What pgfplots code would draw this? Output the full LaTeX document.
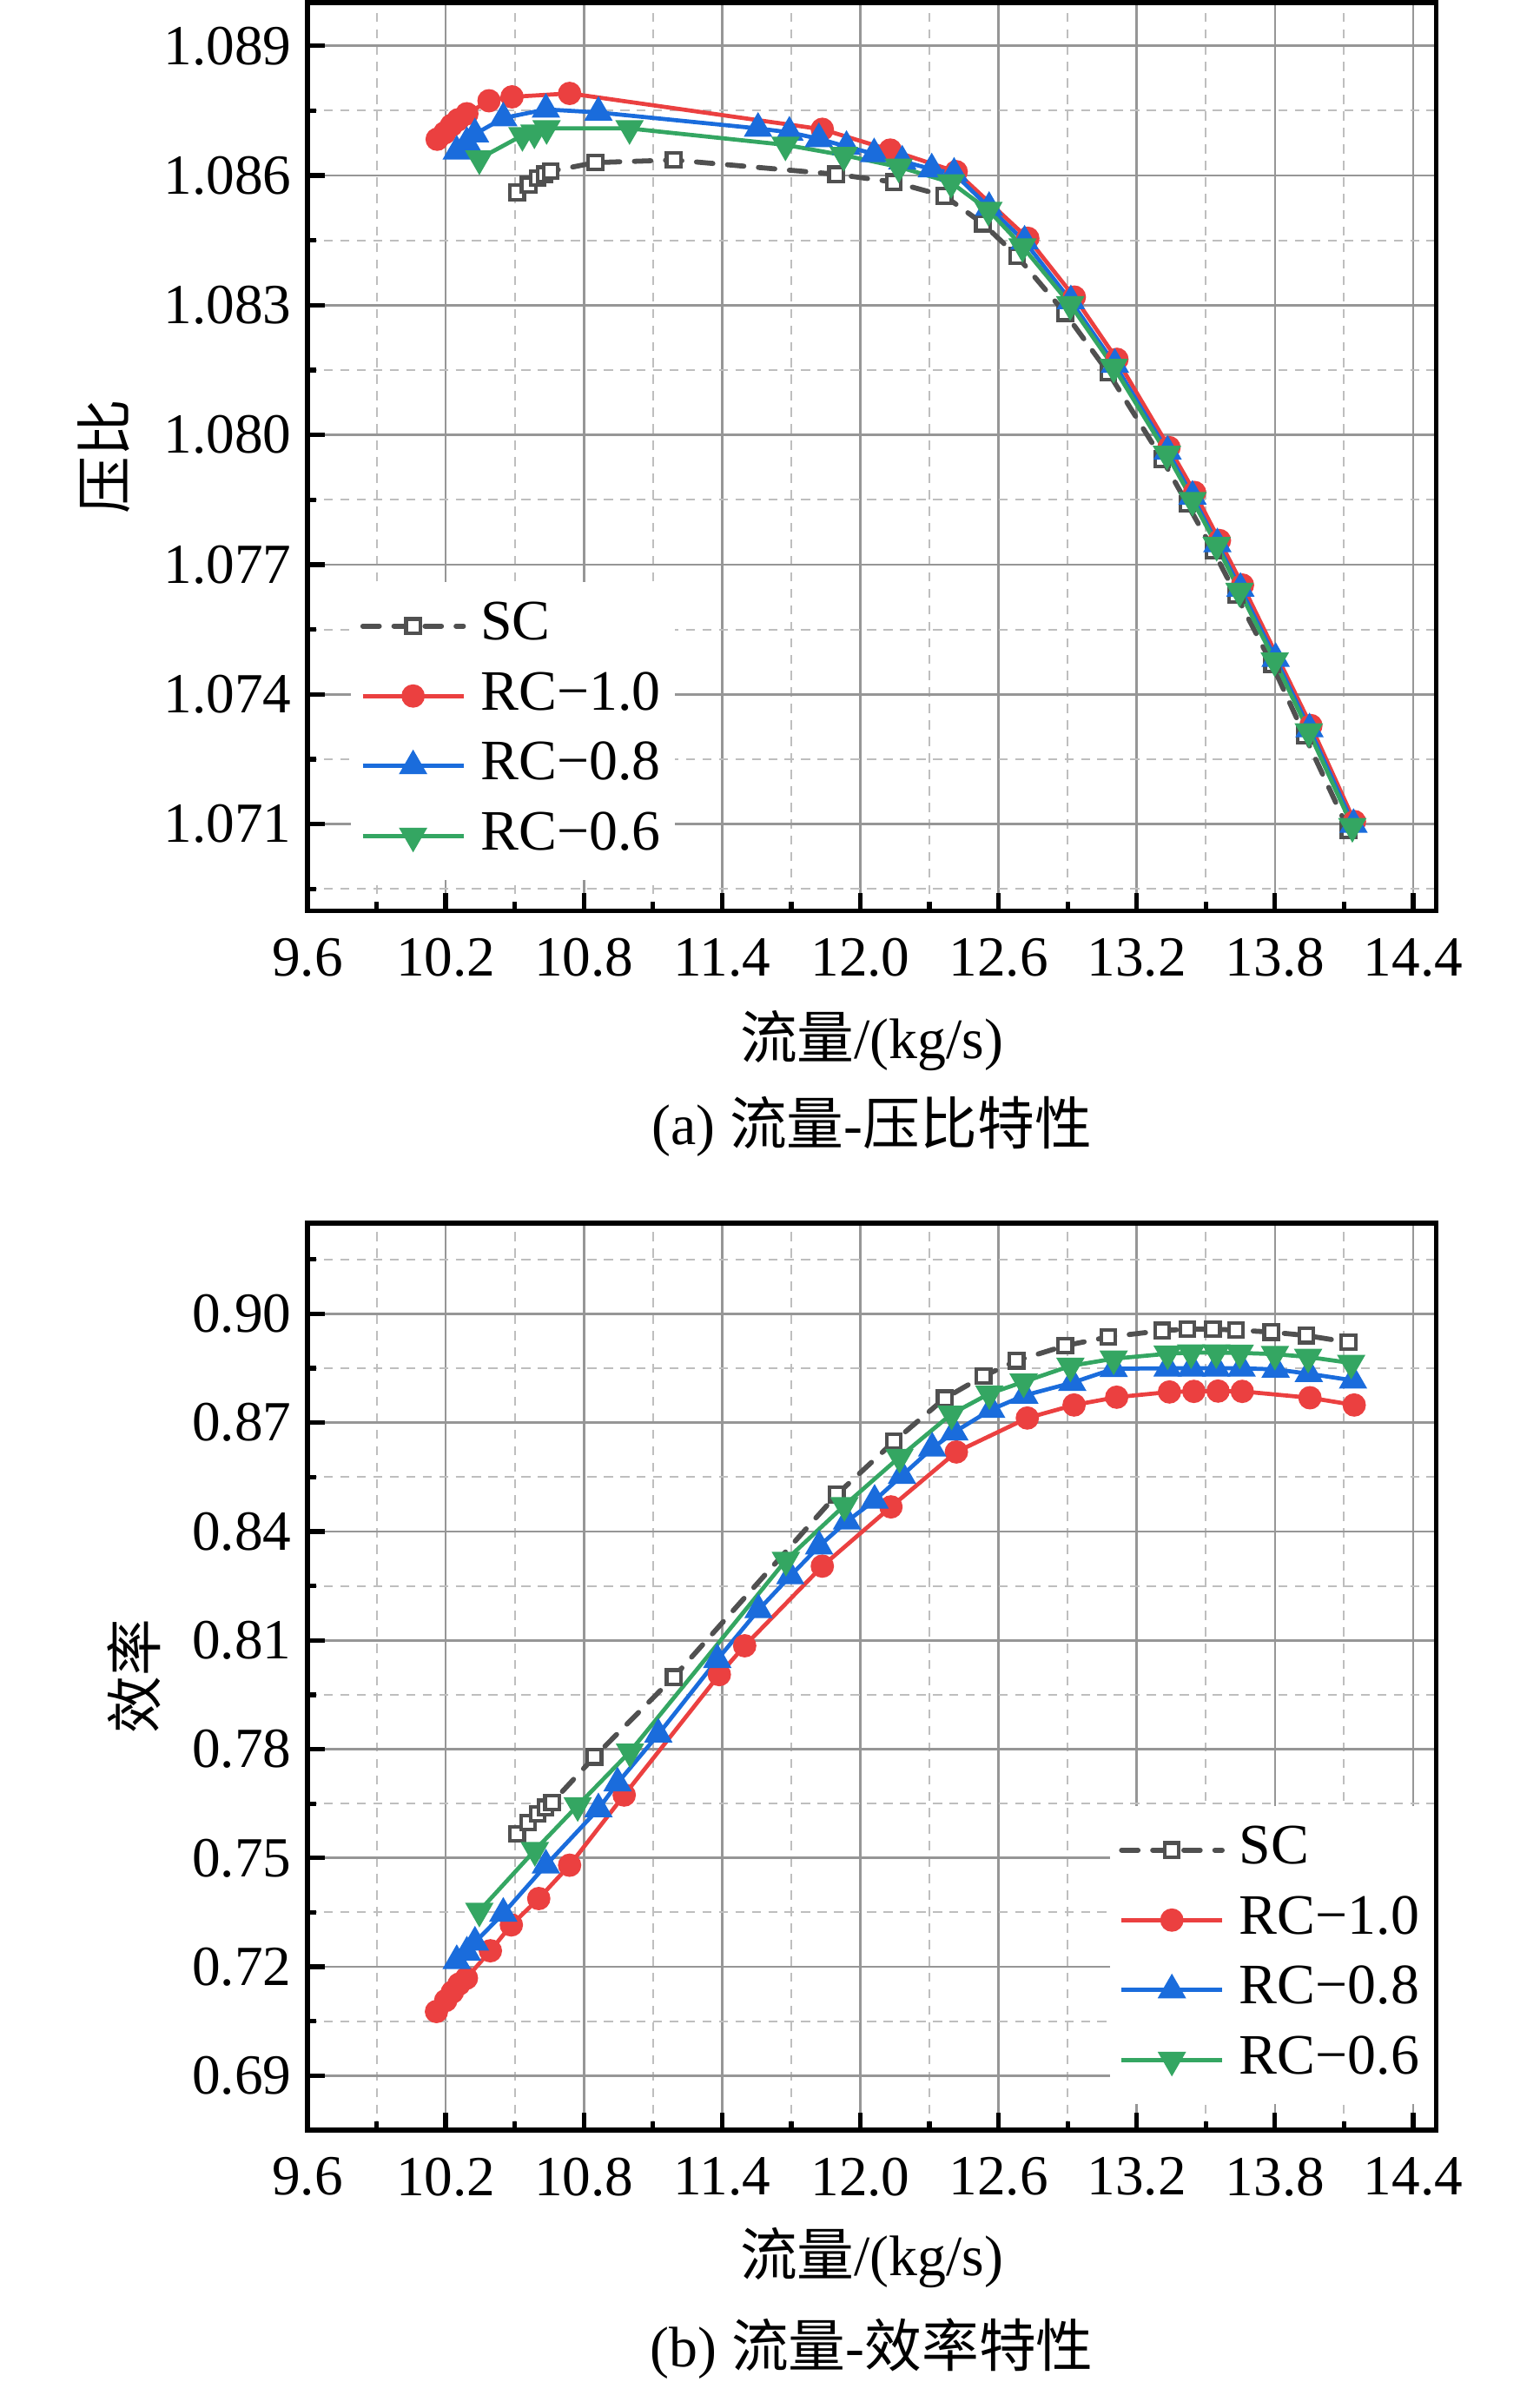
\documentclass[border=0pt]{standalone}
\usepackage{pgfplots}
\pgfplotsset{compat=1.18}
\usepackage{fontspec}
\setmainfont{Liberation Serif}
\newfontfamily\cjk{Noto Sans CJK SC}

\definecolor{cSC}{RGB}{80,80,80}
\definecolor{cR}{RGB}{235,64,64}
\definecolor{cB}{RGB}{26,108,220}
\definecolor{cG}{RGB}{52,166,98}
\definecolor{gmaj}{RGB}{150,150,150}
\definecolor{gmin}{RGB}{190,190,190}

\newcommand\fst{\fontsize{12.4}{14}\selectfont}
\newcommand\fsl{\fontsize{12.5}{15}\selectfont}

\pgfplotstableread{
x y
10.510 1.08561
10.560 1.08579
10.600 1.08594
10.630 1.08603
10.655 1.08610
10.850 1.08630
11.190 1.08636
11.895 1.08603
12.145 1.08585
12.365 1.08553
12.532 1.08489
12.680 1.08414
12.889 1.08282
13.077 1.08144
13.311 1.07944
13.419 1.07841
13.532 1.07733
13.632 1.07630
13.788 1.07469
13.929 1.07305
14.120 1.07086
}\prSC

\pgfplotstableread{
x y
10.163 1.08684
10.196 1.08699
10.225 1.08716
10.254 1.08729
10.292 1.08743
10.388 1.08773
10.488 1.08782
10.738 1.08790
11.835 1.08707
12.130 1.08659
12.416 1.08609
12.727 1.08455
12.929 1.08319
13.114 1.08175
13.340 1.07971
13.451 1.07867
13.559 1.07756
13.659 1.07653
13.956 1.07328
14.145 1.07106
}\prR

\pgfplotstableread{
x y
10.248 1.08656
10.292 1.08676
10.327 1.08696
10.450 1.08733
10.635 1.08753
10.863 1.08746
11.556 1.08709
11.692 1.08700
11.820 1.08685
11.940 1.08667
12.060 1.08650
12.182 1.08633
12.310 1.08615
12.407 1.08605
12.559 1.08526
12.713 1.08448
12.914 1.08310
13.105 1.08163
13.334 1.07962
13.442 1.07858
13.550 1.07748
13.650 1.07645
13.803 1.07483
13.950 1.07320
14.141 1.07099
}\prB

\pgfplotstableread{
x y
10.346 1.08639
10.533 1.08693
10.585 1.08699
10.638 1.08709
10.998 1.08709
11.675 1.08671
11.928 1.08647
12.167 1.08620
12.394 1.08584
12.556 1.08520
12.704 1.08436
12.911 1.08302
13.100 1.08157
13.331 1.07956
13.442 1.07849
13.547 1.07745
13.646 1.07639
13.799 1.07478
13.947 1.07314
14.136 1.07095
}\prG

\pgfplotstableread{
x y
10.510 0.75665
10.558 0.75981
10.600 0.76214
10.633 0.76392
10.662 0.76529
10.846 0.77791
11.190 0.79986
11.898 0.85021
12.146 0.86480
12.366 0.87670
12.535 0.88285
12.678 0.88707
12.889 0.89122
13.077 0.89362
13.311 0.89537
13.420 0.89577
13.530 0.89577
13.631 0.89553
13.784 0.89497
13.936 0.89402
14.119 0.89218
}\efSC

\pgfplotstableread{
x y
10.160 0.70768
10.200 0.71070
10.229 0.71303
10.258 0.71523
10.290 0.71687
10.394 0.72442
10.485 0.73155
10.604 0.73882
10.738 0.74801
10.975 0.76735
11.388 0.80055
11.498 0.80850
11.835 0.83045
12.133 0.84678
12.417 0.86193
12.725 0.87128
12.928 0.87487
13.113 0.87702
13.342 0.87846
13.448 0.87862
13.553 0.87870
13.658 0.87862
13.952 0.87686
14.144 0.87487
}\efR

\pgfplotstableread{
x y
10.248 0.72167
10.292 0.72401
10.327 0.72675
10.450 0.73471
10.635 0.74801
10.863 0.76351
10.946 0.77064
11.123 0.78409
11.379 0.80466
11.558 0.81838
11.696 0.82771
11.821 0.83594
11.942 0.84280
12.062 0.84856
12.181 0.85542
12.312 0.86296
12.408 0.86740
12.568 0.87360
12.712 0.87750
12.920 0.88101
13.100 0.88484
13.334 0.88500
13.439 0.88500
13.545 0.88500
13.655 0.88500
13.803 0.88468
13.947 0.88348
14.139 0.88165
}\efB

\pgfplotstableread{
x y
10.346 0.73539
10.587 0.75212
10.773 0.76447
11.000 0.77929
11.677 0.83210
11.931 0.84719
12.170 0.86050
12.396 0.87240
12.560 0.87800
12.709 0.88125
12.912 0.88564
13.100 0.88763
13.334 0.88900
13.436 0.88930
13.545 0.88930
13.647 0.88923
13.800 0.88890
13.944 0.88810
14.131 0.88644
}\efG

\pgfplotsset{
  myax/.style={
    scale only axis,
    width=246.9pt,
    xmin=9.6, xmax=14.5,
    xtick={9.6,10.2,10.8,11.4,12.0,12.6,13.2,13.8,14.4},
    minor xtick={9.9,10.5,11.1,11.7,12.3,12.9,13.5,14.1},
    xticklabel style={/pgf/number format/fixed, /pgf/number format/fixed zerofill, /pgf/number format/precision=1, /tikz/yshift=-2.5pt},
    scaled ticks=false,
    tick pos=left,
    tick align=inside,
    major tick length=3.8pt,
    minor tick length=1.9pt,
    every tick/.style={black, line width=1pt},
    axis line style={line width=1pt, black},
    grid=both,
    major grid style={line width=0.5pt, draw=gmaj},
    minor grid style={line width=0.4pt, draw=gmin, dash pattern=on 2pt off 1.6pt},
    /pgf/number format/assume math mode=true,
    tick label style={font=\fst},
    legend cell align=left,
    legend style={draw=none, fill=white, font=\fsl,
      inner xsep=2pt, inner ysep=2pt, row sep=0pt,
      nodes={inner sep=1.2pt, text height=9.5pt, text depth=3.4pt},
      /tikz/every odd column/.append style={column sep=2pt}},
    legend image code/.code={\draw[mark repeat=2,mark phase=2] plot coordinates {(0pt,0pt) (11pt,0pt) (22pt,0pt)};},
    every axis x label/.style={at={(axis description cs:0.5,-0.1431)}, anchor=center, font=\fsl},
    every axis title/.style={at={(axis description cs:0.5,-0.2382)}, anchor=center, font=\fsl},
  },
  sSC/.style={cSC, line width=1.1pt, dash pattern=on 3.6pt off 3.2pt, line cap=round,
    mark=square*, mark size=1.55pt, mark options={solid, fill=white, draw=cSC, line width=0.8pt}},
  sR/.style={cR, line width=0.9pt, mark=*, mark size=2.1pt, mark options={solid, fill=cR, draw=cR}},
  sB/.style={cB, line width=0.9pt, mark=triangle*, mark size=2.7pt, mark options={solid, fill=cB, draw=cB}},
  sG/.style={cG, line width=0.9pt, mark=triangle*, mark size=2.7pt, mark options={solid, fill=cG, draw=cG, rotate=180}},
}

\begin{document}
\begin{tikzpicture}
\useasboundingbox (0,0) rectangle (336.68pt,520.98pt);

\begin{axis}[myax,
  at={(67.26pt,321.8pt)}, anchor=south west,
  height=198.6pt,
  ymin=1.069, ymax=1.090,
  ytick={1.071,1.074,1.077,1.080,1.083,1.086,1.089},
  minor ytick={1.0695,1.0725,1.0755,1.0785,1.0815,1.0845,1.0875},
  yticklabel style={/pgf/number format/fixed, /pgf/number format/fixed zerofill, /pgf/number format/precision=3},
  ylabel={{\cjk 压比}},
  every axis y label/.style={at={(axis description cs:-0.1806,0.5)}, rotate=90, anchor=center, font=\fsl},
  xlabel={{\cjk 流量}/(kg/s)},
  title={(a) {\cjk 流量}-{\cjk 压比特性}},
  legend style={at={(rel axis cs:0.0379,0.0327)}, anchor=south west},
]
\addplot[sSC] table {\prSC}; \addlegendentry{SC}
\addplot[sR] table {\prR}; \addlegendentry{RC−1.0}
\addplot[sB] table {\prB}; \addlegendentry{RC−0.8}
\addplot[sG] table {\prG}; \addlegendentry{RC−0.6}
\end{axis}

\begin{axis}[myax,
  at={(67.26pt,55.1pt)}, anchor=south west,
  height=198.36pt,
  ymin=0.675, ymax=0.925,
  ytick={0.69,0.72,0.75,0.78,0.81,0.84,0.87,0.90},
  minor ytick={0.705,0.735,0.765,0.795,0.825,0.855,0.885,0.915},
  yticklabel style={/pgf/number format/fixed, /pgf/number format/fixed zerofill, /pgf/number format/precision=2},
  ylabel={{\cjk 效率}},
  every axis y label/.style={at={(axis description cs:-0.1538,0.5)}, rotate=90, anchor=center, font=\fsl},
  xlabel={{\cjk 流量}/(kg/s)},
  every axis x label/.style={at={(axis description cs:0.5,-0.1408)}, anchor=center, font=\fsl},
  title={(b) {\cjk 流量}-{\cjk 效率特性}},
  every axis title/.style={at={(axis description cs:0.5,-0.2414)}, anchor=center, font=\fsl},
  legend style={at={(rel axis cs:0.9987,0.0276)}, anchor=south east},
]
\addplot[sSC] table {\efSC}; \addlegendentry{SC}
\addplot[sR] table {\efR}; \addlegendentry{RC−1.0}
\addplot[sB] table {\efB}; \addlegendentry{RC−0.8}
\addplot[sG] table {\efG}; \addlegendentry{RC−0.6}
\end{axis}
\end{tikzpicture}
\end{document}
